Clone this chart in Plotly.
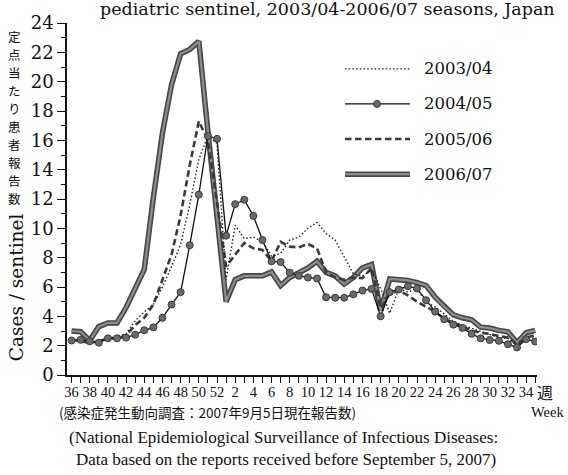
import plotly.graph_objects as go

weeks = ["36", "37", "38", "39", "40", "41", "42", "43", "44", "45", "46", "47",
         "48", "49", "50", "51", "52", "1", "2", "3", "4", "5", "6", "7", "8", "9",
         "10", "11", "12", "13", "14", "15", "16", "17", "18", "19", "20", "21",
         "22", "23", "24", "25", "26", "27", "28", "29", "30", "31", "32", "33",
         "34", "35"]

s2003_04 = [2.4, 2.3, 2.2, 2.35, 2.5, 2.6, 2.8, 3.7, 4.3, 4.8,
            6.0, 7.4, 8.9, 11.6, 14.7, 16.3, 15.8, 6.5, 10.2, 9.3,
            9.4, 9.1, 8.1, 8.3, 9.2, 9.4, 10.0, 10.4, 9.65, 9.2,
            8.0, 6.9, 6.75, 7.15, 5.9, 4.2, 5.9, 5.65, 5.9, 4.95,
            4.65, 4.15, 3.65, 3.4, 3.2, 3.0, 2.75, 2.55, 2.5, 2.0,
            2.45, 2.55]

s2004_05 = [2.35, 2.4, 2.3, 2.2, 2.5, 2.5, 2.55, 2.75, 3.05, 3.25,
            3.9, 4.8, 5.65, 8.85, 12.3, 16.3, 16.1, 9.5, 11.65, 11.95,
            10.85, 9.2, 7.75, 7.7, 6.98, 6.76, 6.65, 6.58, 5.3, 5.27,
            5.27, 5.5, 5.76, 5.87, 4.0, 5.65, 5.83, 6.05, 5.9, 5.1,
            4.32, 3.8, 3.43, 3.21, 2.81, 2.5, 2.39, 2.33, 2.1, 1.88,
            2.44, 2.28]

s2005_06 = [2.4, 2.3, 2.2, 2.3, 2.5, 2.5, 2.7, 3.4, 3.9, 4.8,
            6.5, 8.2, 10.9, 14.3, 17.3, 16.0, 11.8, 7.4, 8.2, 9.0,
            8.64, 8.53, 7.76, 9.08, 8.75, 8.7, 8.93, 8.64, 6.98, 6.65,
            6.5, 6.65, 6.6, 7.3, 4.55, 5.55, 5.76, 5.43, 5.0, 4.65,
            4.32, 3.83, 3.55, 3.32, 3.04, 2.88, 2.8, 2.66, 2.55, 2.1,
            2.55, 2.73]

s2006_07 = [3.0, 2.95, 2.35, 3.3, 3.55, 3.55, 4.6, 5.9, 7.2, 12.1,
            16.5, 19.8, 21.9, 22.2, 22.75, 16.6, 10.8, 5.0, 6.5, 6.76,
            6.76, 6.76, 7.03, 6.1, 6.65, 7.0, 7.3, 7.76, 7.0, 6.76,
            6.2, 6.65, 7.3, 7.53, 4.4, 6.55, 6.5, 6.45, 6.3, 6.1,
            5.3, 4.65, 4.1, 3.9, 3.77, 3.26, 3.2, 3.04, 2.95, 2.2,
            2.88, 3.04]

season_names = ["2003/04", "2004/05", "2005/06", "2006/07"]
y_ticks = [0, 2, 4, 6, 8, 10, 12, 14, 16, 18, 20, 22, 24]
x_ticktext = [w if int(w) % 2 == 0 else "" for w in weeks]
jp_ylabel = "定点当たり患者報告数"

W, H = 568, 475
L, R, T, B = 67, 537, 14, 375


def px(x):
    return (x - L) / (R - L)


def py(y):
    return (B - y) / (B - T)


SERIF = "DejaVu Serif"
SERIF2 = "Liberation Serif"
CJK = "Noto Sans CJK JP"

fig = go.Figure()

# 2006/07 thick grey double line
fig.add_trace(go.Scatter(x=weeks, y=s2006_07, mode="lines",
                         line=dict(color="#474747", width=5.5),
                         showlegend=False, hoverinfo="skip"))
fig.add_trace(go.Scatter(x=weeks, y=s2006_07, mode="lines",
                         line=dict(color="#8e8e8e", width=2.2),
                         showlegend=False, name=season_names[3]))
# 2005/06 dashed
fig.add_trace(go.Scatter(x=weeks, y=s2005_06, mode="lines",
                         line=dict(color="#3a3a3a", width=2.6, dash="6.5px,3.5px"),
                         showlegend=False, name=season_names[2]))
# 2003/04 dotted
fig.add_trace(go.Scatter(x=weeks, y=s2003_04, mode="lines",
                         line=dict(color="#222222", width=1.4, dash="1.5px,2.2px"),
                         showlegend=False, name=season_names[0]))
# 2004/05 solid with markers
fig.add_trace(go.Scatter(x=weeks, y=s2004_05, mode="lines+markers",
                         line=dict(color="#111111", width=1.3),
                         marker=dict(size=7, color="#6a6a6a",
                                     line=dict(color="#3a3a3a", width=1)),
                         showlegend=False, name=season_names[1]))

shapes = []
annotations = []

# manual legend
leg_y = [61, 97, 133, 169]
lx0, lx1, ltx = 345, 410, 422
styles = [
    dict(color="#222222", width=1.4, dash="1.5px,2.2px"),
    dict(color="#111111", width=1.3),
    dict(color="#3a3a3a", width=2.6, dash="6.5px,3.5px"),
    dict(color="#474747", width=5.5),
]
for i, name in enumerate(season_names):
    shapes.append(dict(type="line", xref="paper", yref="paper",
                       x0=px(lx0), x1=px(lx1), y0=py(leg_y[i]), y1=py(leg_y[i]),
                       line=styles[i]))
    if i == 3:
        shapes.append(dict(type="line", xref="paper", yref="paper",
                           x0=px(lx0), x1=px(lx1), y0=py(leg_y[i]), y1=py(leg_y[i]),
                           line=dict(color="#8e8e8e", width=2.2)))
    annotations.append(dict(text=name, xref="paper", yref="paper",
                            x=px(ltx), y=py(leg_y[i]), xanchor="left", yanchor="middle",
                            showarrow=False, font=dict(family=SERIF, size=16.5, color="#111")))
shapes.append(dict(type="circle", xref="paper", yref="paper",
                   xsizemode="pixel", ysizemode="pixel",
                   xanchor=px(377), yanchor=py(leg_y[1]),
                   x0=-3.5, x1=3.5, y0=-3.5, y1=3.5,
                   fillcolor="#6a6a6a", line=dict(color="#3a3a3a", width=1)))

# title (clipped at top like the reference)
annotations.append(dict(text="pediatric sentinel, 2003/04-2006/07 seasons, Japan",
                        xref="paper", yref="paper", x=px(327), y=py(0),
                        xanchor="center", yanchor="middle", showarrow=False,
                        font=dict(family=SERIF, size=17.5, color="#111")))

# Japanese vertical label, one character per row
for k, ch in enumerate(jp_ylabel):
    annotations.append(dict(text=ch, xref="paper", yref="paper",
                            x=px(14), y=py(28 + 18.4 * k),
                            xanchor="center", yanchor="middle", showarrow=False,
                            borderpad=0,
                            font=dict(family=CJK, size=12.5, color="#111")))
# English y label
annotations.append(dict(text="Cases / sentinel", textangle=-90,
                        xref="paper", yref="paper", x=px(16), y=py(285),
                        xanchor="center", yanchor="middle", showarrow=False,
                        font=dict(family=SERIF, size=18.5, color="#111")))
# week labels
annotations.append(dict(text="週", xref="paper", yref="paper", x=px(545), y=py(392),
                        xanchor="center", yanchor="middle", showarrow=False,
                        font=dict(family=CJK, size=16, color="#111")))
annotations.append(dict(text="Week", xref="paper", yref="paper", x=px(547), y=py(413),
                        xanchor="center", yanchor="middle", showarrow=False,
                        font=dict(family=SERIF2, size=14.5, color="#111")))
# source notes
annotations.append(dict(text="(感染症発生動向調査：2007年9月5日現在報告数)",
                        xref="paper", yref="paper", x=px(207), y=py(413),
                        xanchor="center", yanchor="middle", showarrow=False,
                        font=dict(family=CJK, size=13.5, color="#111")))
annotations.append(dict(text="(National Epidemiological Surveillance of Infectious Diseases:",
                        xref="paper", yref="paper", x=px(283), y=py(439),
                        xanchor="center", yanchor="middle", showarrow=False,
                        font=dict(family=SERIF2, size=17, color="#111")))
annotations.append(dict(text="Data based on the reports received before September 5, 2007)",
                        xref="paper", yref="paper", x=px(286), y=py(462),
                        xanchor="center", yanchor="middle", showarrow=False,
                        font=dict(family=SERIF2, size=17, color="#111")))

fig.update_layout(
    width=W, height=H,
    margin=dict(l=L, r=W - R, t=T, b=H - B, pad=0),
    paper_bgcolor="white", plot_bgcolor="white",
    showlegend=False,
    shapes=shapes, annotations=annotations,
    xaxis=dict(type="category", categoryorder="array", categoryarray=weeks,
               range=[-0.5, 51.2], tickmode="array", tickvals=weeks, ticktext=x_ticktext,
               ticks="outside", ticklen=6, tickwidth=1, tickcolor="#111",
               ticklabelstandoff=-3,
               showline=True, linecolor="#111", linewidth=1.5,
               showgrid=False, zeroline=False,
               tickfont=dict(family=SERIF2, size=14.5, color="#111")),
    yaxis=dict(range=[0, 24], tickmode="array", tickvals=y_ticks,
               ticks="outside", ticklen=8, tickwidth=1.3, tickcolor="#111",
               minor=dict(dtick=1, ticks="outside", ticklen=4, tickwidth=1, tickcolor="#111"),
               showline=True, linecolor="#111", linewidth=1.5,
               showgrid=False, zeroline=False,
               tickfont=dict(family=SERIF, size=18, color="#111")),
)

fig.write_html("out.html")
